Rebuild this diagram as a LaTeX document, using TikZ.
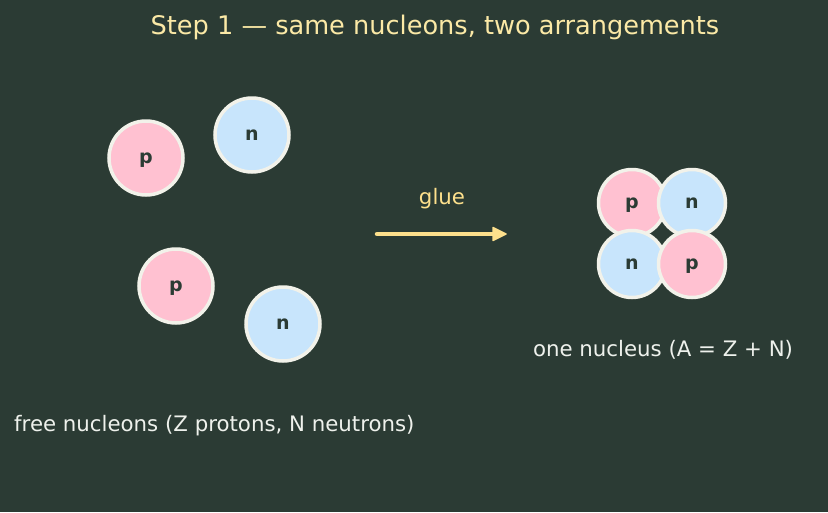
\documentclass[tikz,border=0pt]{standalone}
\usepackage{fontspec}
\setmainfont{DejaVu Sans}
\usetikzlibrary{arrows.meta}
\definecolor{bg}{HTML}{2B3B34}
\definecolor{pinkc}{HTML}{FFC1D1}
\definecolor{bluec}{HTML}{C8E5FC}
\definecolor{rimc}{HTML}{F2F2EA}
\definecolor{darkt}{HTML}{2B3B34}
\definecolor{titlec}{HTML}{FBE9A6}
\definecolor{arrowc}{HTML}{FDE08C}
\definecolor{labelc}{HTML}{EEF1EC}
\tikzset{
  nuc/.style={circle, draw=rimc, line width=3.5pt, inner sep=0pt, text=darkt, font=\fontsize{19}{22}\selectfont\bfseries, text height=10.4pt, text depth=0pt},
  freenuc/.style={nuc, minimum size=74pt},
  boundnuc/.style={nuc, minimum size=67pt},
  proton/.style={fill=pinkc},
  neutron/.style={fill=bluec},
  lbl/.style={text=labelc, font=\fontsize{21.3}{24}\selectfont, inner sep=0pt},
  gluearrow/.style={draw=arrowc, line width=4.5pt, line cap=round, shorten >=8pt},
  gluehead/.style={fill=arrowc, draw=arrowc, line width=1.5pt, line join=round},
}
\begin{document}
\begin{tikzpicture}[x=1pt,y=-1pt]
\fill[bg] (0,0) rectangle (828,512);
\useasboundingbox (0,0) rectangle (828,512);
\node[text=titlec, font=\fontsize{25.6}{28}\selectfont] (title) at (435,27) {Step 1 — same nucleons, two arrangements};
\node[freenuc, proton] (p1) at (146,158) {p};
\node[freenuc, neutron] (n1) at (252,135) {n};
\node[freenuc, proton] (p2) at (176,286) {p};
\node[freenuc, neutron] (n2) at (283,324) {n};
\node[lbl, anchor=west] (freelbl) at (14,425.5) {free nucleons (Z protons, N neutrons)};
\coordinate (a1) at (377,234);
\coordinate (a2) at (506,234);
\draw[gluearrow] (a1) -- (a2);
\draw[gluehead] (a2) -- ++(-13,-6.5) -- ++(0,13) -- cycle;
\node[text=arrowc, font=\fontsize{21.3}{24}\selectfont] (glue) at (442,199) {glue};
\node[boundnuc, proton] (bp1) at (632,203) {p};
\node[boundnuc, neutron] (bn1) at (692,203) {n};
\node[boundnuc, neutron] (bn2) at (632,264) {n};
\node[boundnuc, proton] (bp2) at (692,264) {p};
\node[lbl] (nuclbl) at (663,349.5) {one nucleus (A = Z + N)};
\end{tikzpicture}
\end{document}
